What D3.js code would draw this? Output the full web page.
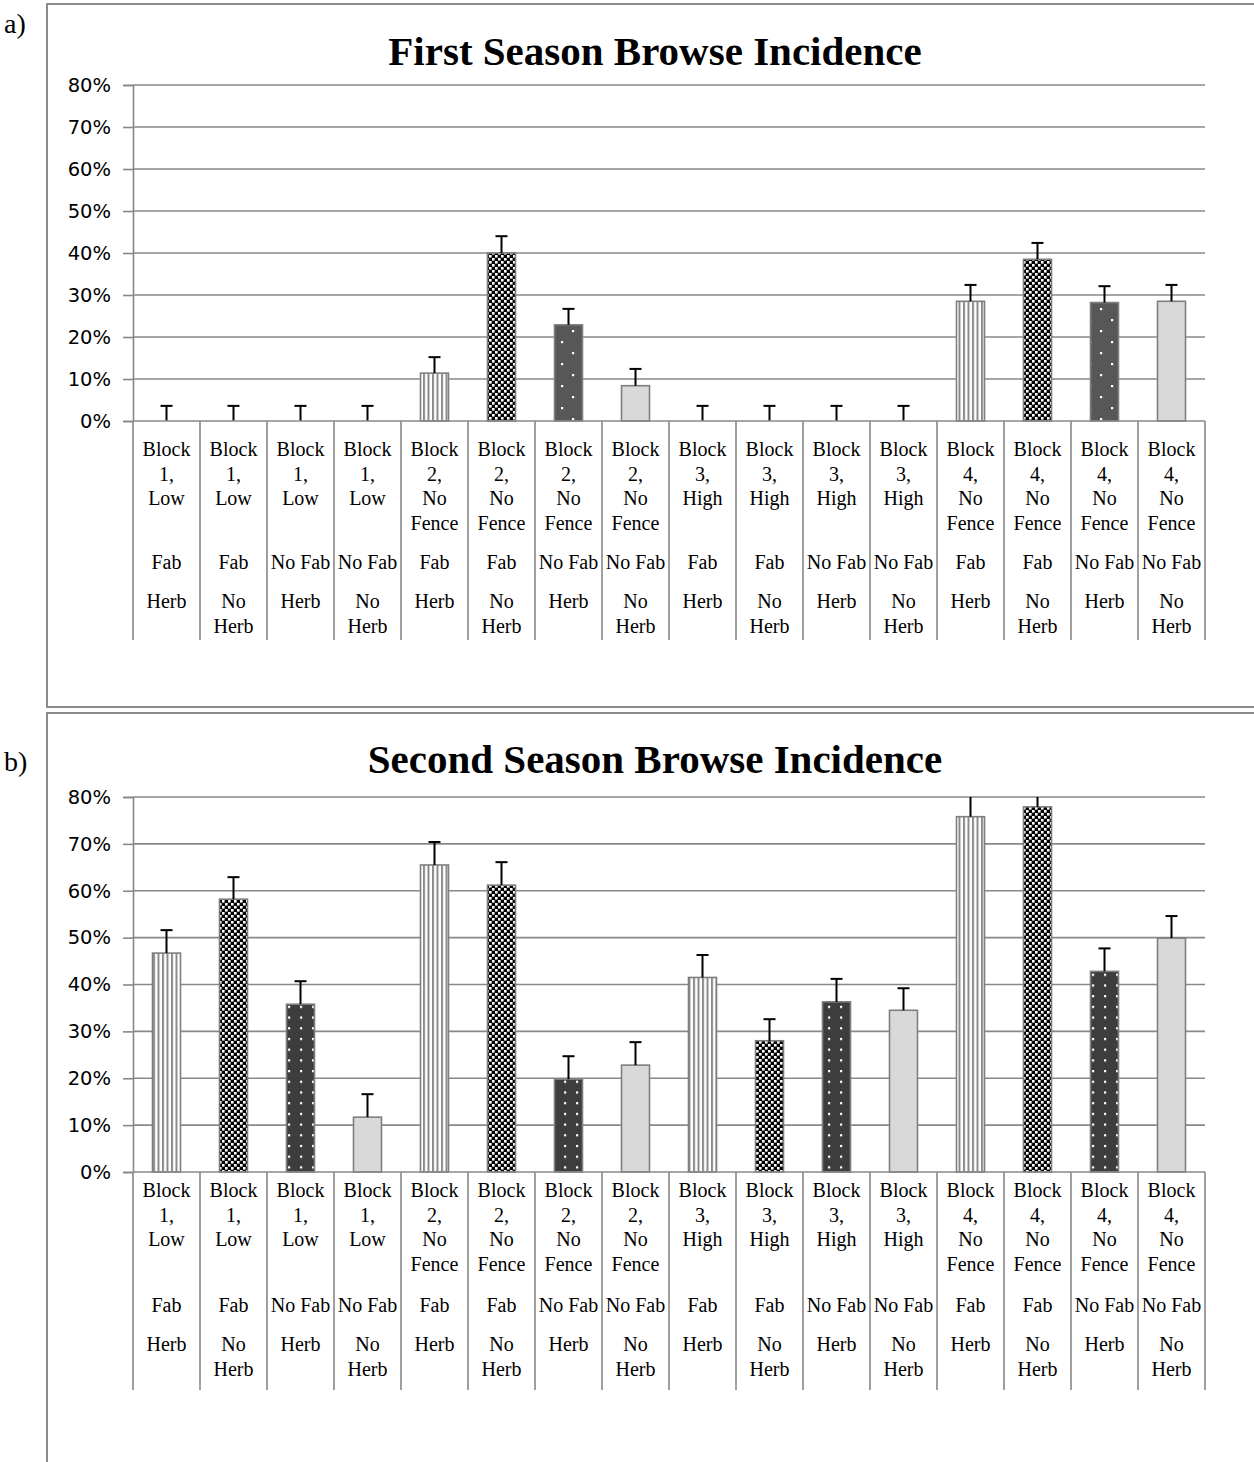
<!DOCTYPE html>
<html><head><meta charset="utf-8">
<script src="https://cdn.jsdelivr.net/npm/d3@7"></script>
<style>body{margin:0;background:#fff}svg{display:block}</style>
</head><body>
<script>
// ---- data ----
const blockLabels = ["Block 1, Low","Block 1, Low","Block 1, Low","Block 1, Low",
  "Block 2, No Fence","Block 2, No Fence","Block 2, No Fence","Block 2, No Fence",
  "Block 3, High","Block 3, High","Block 3, High","Block 3, High",
  "Block 4, No Fence","Block 4, No Fence","Block 4, No Fence","Block 4, No Fence"];
const fabLabels = ["Fab","Fab","No Fab","No Fab","Fab","Fab","No Fab","No Fab",
  "Fab","Fab","No Fab","No Fab","Fab","Fab","No Fab","No Fab"];
const herbLabels = ["Herb","No Herb","Herb","No Herb","Herb","No Herb","Herb","No Herb",
  "Herb","No Herb","Herb","No Herb","Herb","No Herb","Herb","No Herb"];
const firstSeason = [0,0,0,0, 11.4,40.0,22.9,8.4, 0,0,0,0, 28.5,38.5,28.2,28.5];
const firstErr    = [3.6,3.6,3.6,3.6, 3.8,4.0,3.8,4.0, 3.6,3.6,3.6,3.6, 3.9,3.9,3.9,3.9];
const secondSeason = [46.7,58.2,35.8,11.7, 65.5,61.2,19.8,22.8, 41.5,28.0,36.3,34.5, 75.8,77.9,42.8,49.9];
const secondErr    = [4.9,4.7,4.9,4.9, 4.9,4.9,4.9,4.9, 4.8,4.6,4.9,4.7, 4.8,4.8,4.9,4.7];
const yTicks = [0,10,20,30,40,50,60,70,80];
const titles = ["First Season Browse Incidence","Second Season Browse Incidence"];
const panelTags = ["a)","b)"];

const W = 1254, H = 1462;
const svg = d3.select("body").append("svg").attr("width",W).attr("height",H);
const defs = svg.append("defs");

// patterns
function stripes(id){
  const p = defs.append("pattern").attr("id",id).attr("patternUnits","userSpaceOnUse")
    .attr("width",4.5).attr("height",10);
  p.append("rect").attr("width",4.5).attr("height",10).attr("fill","#fff");
  p.append("rect").attr("x",0).attr("width",2).attr("height",10).attr("fill","#8a8a8a");
}
function checker(id){
  const p = defs.append("pattern").attr("id",id).attr("patternUnits","userSpaceOnUse")
    .attr("width",6).attr("height",6);
  p.append("rect").attr("width",6).attr("height",6).attr("fill","#000");
  p.append("rect").attr("x",0).attr("y",0).attr("width",2.6).attr("height",2.6).attr("fill","#fff");
  p.append("rect").attr("x",3).attr("y",3).attr("width",2.6).attr("height",2.6).attr("fill","#fff");
}
function dots(id,bg,w,h,pts){
  const p = defs.append("pattern").attr("id",id).attr("patternUnits","userSpaceOnUse")
    .attr("width",w).attr("height",h);
  p.append("rect").attr("width",w).attr("height",h).attr("fill",bg);
  pts.forEach(([x,y])=>p.append("rect").attr("x",x).attr("y",y).attr("width",2.2).attr("height",2.2).attr("fill","#fff"));
}
stripes("pStripe"); checker("pCheck");
dots("pDotA","#575757",22,22,[[0,0],[11,11]]);
dots("pDotB","#3d3d3d",12,10.7,[[0,0]]);

function panel(cfg){
  const g = svg.append("g");
  g.append("rect").attr("x",cfg.box[0]).attr("y",cfg.box[1]).attr("width",cfg.box[2]).attr("height",cfg.box[3])
    .attr("fill","none").attr("stroke","#8c8c8c").attr("stroke-width",2);
  g.append("text").attr("x",4).attr("y",cfg.tagY).text(cfg.tag)
    .attr("font-family","Liberation Serif").attr("font-size",28).attr("fill","#000");
  g.append("text").attr("x",655).attr("y",cfg.titleY).attr("text-anchor","middle").text(cfg.title)
    .attr("font-family","Liberation Serif").attr("font-weight","bold").attr("font-size",41).attr("fill","#000");

  const x = d3.scaleBand().domain(d3.range(16)).range([133,1205]);
  const y = d3.scaleLinear().domain([0,80]).range([cfg.y0,cfg.y1]);

  g.selectAll(".grid").data(yTicks.filter(t=>t>0)).join("line")
    .attr("x1",133).attr("x2",1205).attr("y1",d=>y(d)).attr("y2",d=>y(d))
    .attr("stroke","#888").attr("stroke-width",1.6);
  const ya = g.append("g").attr("transform","translate(133,0)")
    .call(d3.axisLeft(y).tickValues(yTicks).tickFormat(d=>d+"%").tickSize(10).tickPadding(12));
  ya.select(".domain").attr("stroke","#888").attr("stroke-width",1.6);
  ya.selectAll(".tick line").attr("stroke","#888").attr("stroke-width",1.6);
  ya.selectAll(".tick text").attr("font-family","DejaVu Sans").attr("font-size",19.5).attr("fill","#000");

  const bw = 28;
  const fills = i => ["url(#pStripe)","url(#pCheck)",cfg.dotFill,"#d9d9d9"][i%4];
  g.selectAll(".bar").data(cfg.values).join("rect")
    .attr("x",(d,i)=>x(i)+x.bandwidth()/2-bw/2).attr("width",bw)
    .attr("y",d=>y(d)).attr("height",d=>y(0)-y(d))
    .attr("fill",(d,i)=>fills(i)).attr("stroke","#7f7f7f").attr("stroke-width",d=>d>0?1.6:0);

  cfg.values.forEach((v,i)=>{
    const top = v + cfg.errs[i];
    const cx = x(i)+x.bandwidth()/2;
    const clipped = top > 80;
    g.append("line").attr("x1",cx).attr("x2",cx).attr("y1",y(v)).attr("y2",y(Math.min(top,80)))
      .attr("stroke","#000").attr("stroke-width",2);
    if(!clipped) g.append("line").attr("x1",cx-6).attr("x2",cx+6).attr("y1",y(top)).attr("y2",y(top))
      .attr("stroke","#000").attr("stroke-width",2);
  });

  g.append("line").attr("x1",133).attr("x2",1205).attr("y1",y(0)).attr("y2",y(0)).attr("stroke","#888").attr("stroke-width",1.6);
  g.selectAll(".div").data(d3.range(17)).join("line")
    .attr("x1",d=>133+d*x.step()).attr("x2",d=>133+d*x.step())
    .attr("y1",y(0)).attr("y2",cfg.divBottom).attr("stroke","#888").attr("stroke-width",1.6);

  const lab = g.append("g").attr("font-family","Liberation Serif").attr("font-size",20)
    .attr("text-anchor","middle").attr("fill","#000");
  d3.range(16).forEach(i=>{
    const cx = x(i)+x.bandwidth()/2;
    blockLabels[i].split(" ").forEach((w,k)=>{
      lab.append("text").attr("x",cx).attr("y",cfg.blockY+k*24.6).text(w);
    });
    lab.append("text").attr("x",cx).attr("y",cfg.fabY).text(fabLabels[i]);
    herbLabels[i].split(" ").forEach((w,k)=>{
      lab.append("text").attr("x",cx).attr("y",cfg.herbY+k*24.6).text(w);
    });
  });
}

panel({box:[47,4,1220,703],tag:panelTags[0],tagY:33,title:titles[0],titleY:65,
  y0:421,y1:85,values:firstSeason,errs:firstErr,dotFill:"url(#pDotA)",
  divBottom:640,blockY:456,fabY:569,herbY:608});
panel({box:[47,713,1220,800],tag:panelTags[1],tagY:771,title:titles[1],titleY:773,
  y0:1172,y1:797,values:secondSeason,errs:secondErr,dotFill:"url(#pDotB)",
  divBottom:1390,blockY:1197,fabY:1312,herbY:1351});
</script>
</body></html>
